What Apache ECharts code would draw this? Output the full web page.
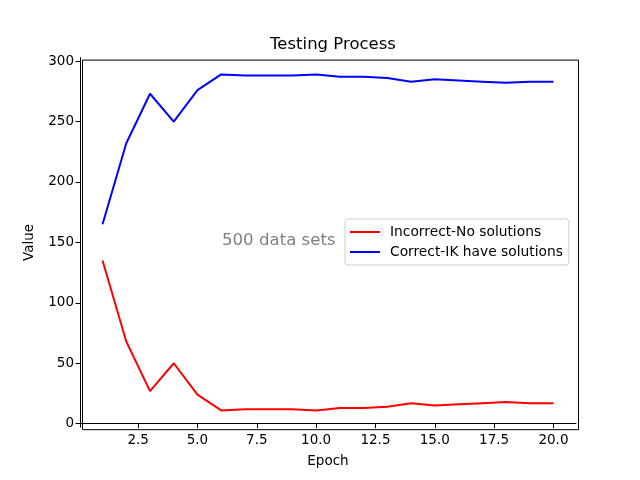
<!DOCTYPE html>
<html>
<head>
<meta charset="utf-8">
<script src="https://cdn.jsdelivr.net/npm/echarts@6/dist/echarts.min.js"></script>
<style>html,body{margin:0;padding:0;background:#fff}#c{width:640px;height:480px}</style>
</head>
<body>
<div id="c"></div>
<script>
const epochs = [1,2,3,4,5,6,7,8,9,10,11,12,13,14,15,16,17,18,19,20];
const incorrect = [135,68,27,50,24,11,12,12,12,11,13,13,14,17,15,16,17,18,17,17];
const correct = [165,232,273,250,276,289,288,288,288,289,287,287,286,283,285,284,283,282,283,283];
const xTicks = [2.5,5,7.5,10,12.5,15,17.5,20];
const yTicks = [0,50,100,150,200,250,300];

const font = 'DejaVu Sans';
const chart = echarts.init(document.getElementById('c'));
chart.setOption({
  animation: false,
  textStyle: { fontFamily: font },
  title: { text: 'Testing Process', left: 328, textAlign: 'center', top: 31,
    textStyle: { fontFamily: font, fontSize: 16.5, fontWeight: 'normal', color: '#000' } },
  grid: { left: 80, right: 64, top: 57.6, bottom: 52.8 },
  xAxis: {
    type: 'value', min: 0.05, max: 20.95,
    name: 'Epoch', nameLocation: 'middle', nameGap: 27,
    nameTextStyle: { fontFamily: font, fontSize: 13.5, color: '#000' },
    axisLine: { lineStyle: { color: '#000' } },
    axisTick: { customValues: xTicks, length: 4.5, lineStyle: { color: '#000' } },
    axisLabel: { customValues: xTicks, formatter: v => v.toFixed(1), fontFamily: font, fontSize: 13.5, color: '#000', margin: 6 },
    splitLine: { show: false }
  },
  yAxis: {
    type: 'value', min: -2.9, max: 302.9,
    name: 'Value', nameLocation: 'middle', nameGap: 44,
    nameTextStyle: { fontFamily: font, fontSize: 13.5, color: '#000' },
    axisLine: { show: true, lineStyle: { color: '#000' } },
    axisTick: { show: true, customValues: yTicks, length: 4.5, lineStyle: { color: '#000' } },
    axisLabel: { customValues: yTicks, fontFamily: font, fontSize: 13.5, color: '#000', margin: 6 },
    splitLine: { show: false }
  },
  legend: {
    orient: 'vertical', left: 345, top: 219, right: 'auto',
    padding: [6, 6, 6, 5],
    itemGap: 6, itemWidth: 30, itemHeight: 2,
    backgroundColor: '#fff', borderColor: '#ccc', borderWidth: 1, borderRadius: 3,
    icon: 'rect',
    textStyle: { fontFamily: font, fontSize: 13.8, color: '#000', padding: [0, 0, 0, 5] },
    data: ['Incorrect-No solutions', 'Correct-IK have solutions']
  },
  graphic: [
    { type: 'rect', left: 80, top: 57.6, shape: { width: 496, height: 369.6 }, silent: true, z: 0,
      style: { fill: 'none', stroke: '#000', lineWidth: 1 } },
    { type: 'text', left: 222, top: 232, silent: true,
      style: { text: '500 data sets', font: '16.6px "DejaVu Sans"', fill: '#808080' } }
  ],
  series: [
    { name: 'Incorrect-No solutions', type: 'line', data: epochs.map((e,i)=>[e, incorrect[i]]),
      symbol: 'none', lineStyle: { color: '#ff0000', width: 2 }, itemStyle: { color: '#ff0000' } },
    { name: 'Correct-IK have solutions', type: 'line', data: epochs.map((e,i)=>[e, correct[i]]),
      symbol: 'none', lineStyle: { color: '#0000ff', width: 2 }, itemStyle: { color: '#0000ff' } }
  ]
});
</script>
</body>
</html>
